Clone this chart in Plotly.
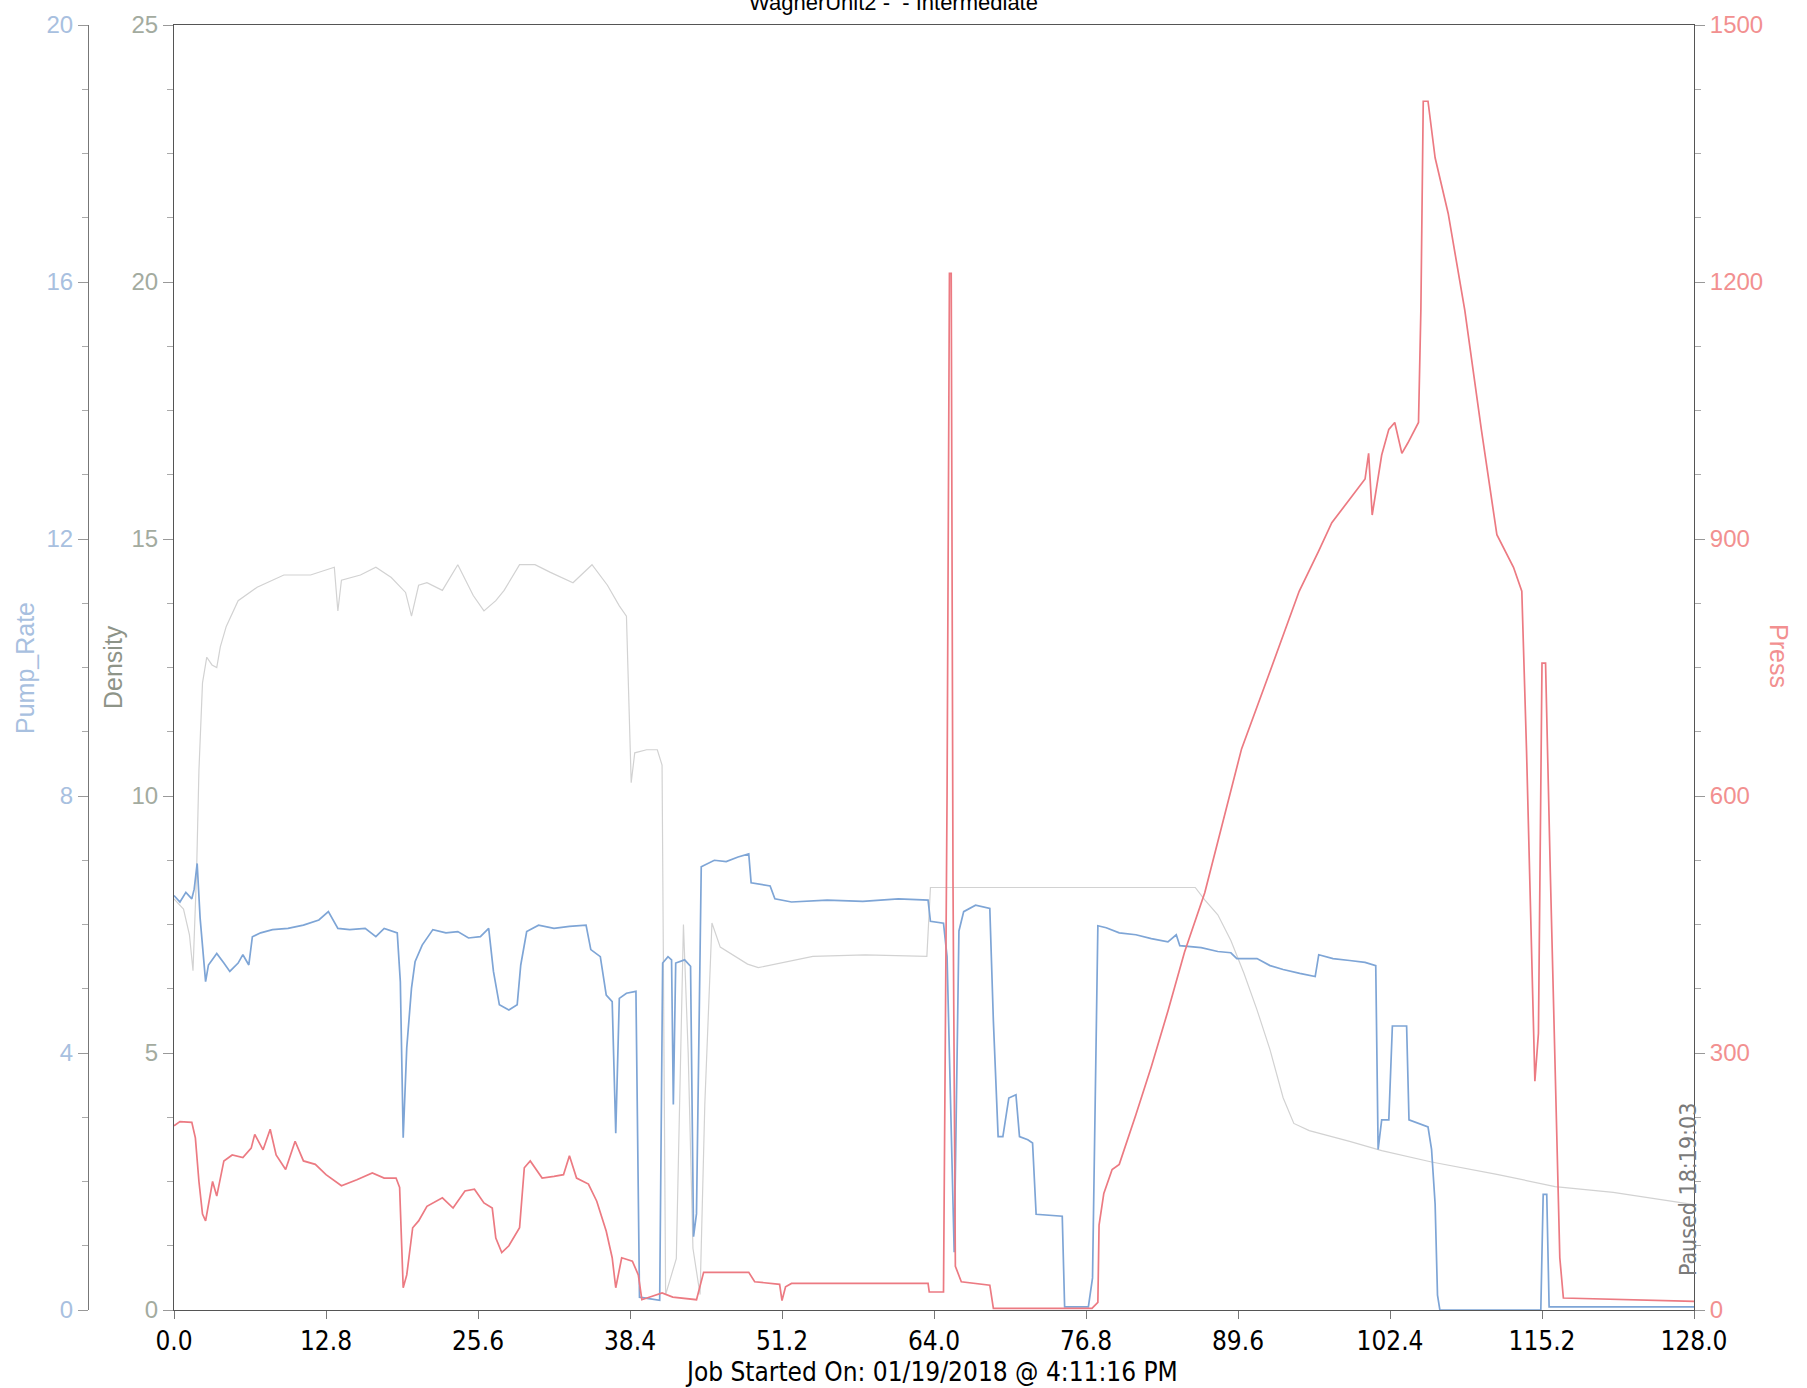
import plotly.graph_objects as go

W, H = 1807, 1388

# ---------------- data ----------------
pump_t = [0.0, 0.5, 1.0, 1.5, 1.7, 1.95, 2.2, 2.4, 2.66, 2.9, 3.6, 4.2, 4.7, 5.4, 5.8, 6.3, 6.6, 7.3, 8.3, 9.6,
          10.9, 12.2, 13.0, 13.8, 14.8, 16.1, 17.0, 17.7, 18.8, 19.06, 19.3, 19.6, 20.0, 20.3, 20.9, 21.8, 22.9,
          23.9, 24.8, 25.8, 26.5, 26.9, 27.4, 28.2, 28.9, 29.2, 29.7, 30.7, 32.0, 33.3, 34.7, 35.1, 35.9, 36.4,
          36.9, 37.2, 37.5, 38.1, 38.9, 39.2, 40.9, 41.15, 41.6, 41.9, 42.05, 42.25, 43.0, 43.5, 43.75, 44.0,
          44.4, 45.5, 46.5, 47.5, 48.4, 48.6, 50.2, 50.6, 52.0, 55.0, 58.0, 61.0, 63.5, 63.7, 64.8, 65.1, 65.7,
          66.1, 66.5, 67.5, 68.7, 69.0, 69.4, 69.8, 70.3, 70.9, 71.2, 71.9, 72.3, 72.6, 74.8, 75.0, 77.0, 77.35,
          77.8, 78.5, 79.6, 81.0, 82.3, 83.7, 84.4, 84.7, 86.5, 87.9, 89.0, 89.5, 91.2, 92.3, 93.4, 94.8, 96.1,
          96.4, 97.6, 99.0, 100.3, 101.2, 101.4, 101.7, 102.3, 102.6, 103.8, 104.0, 105.6, 105.9, 106.2, 106.4,
          106.6, 115.1, 115.3, 115.6, 115.8, 128.0]
pump_v = [6.45, 6.35, 6.5, 6.4, 6.55, 6.95, 6.1, 5.68, 5.11, 5.37, 5.55, 5.4, 5.27, 5.4, 5.53, 5.37, 5.81, 5.87,
          5.92, 5.94, 5.99, 6.07, 6.2, 5.94, 5.92, 5.94, 5.81, 5.94, 5.87, 5.11, 2.68, 4.08, 5.01, 5.42, 5.68,
          5.92, 5.87, 5.89, 5.79, 5.81, 5.94, 5.27, 4.75, 4.67, 4.75, 5.37, 5.89, 5.99, 5.94, 5.97, 5.99, 5.61,
          5.5, 4.9, 4.8, 2.75, 4.85, 4.93, 4.96, 0.2, 0.15, 5.4, 5.5, 5.45, 3.2, 5.4, 5.45, 5.35, 1.14, 1.5,
          6.9, 7.0, 6.98, 7.05, 7.1, 6.65, 6.6, 6.4, 6.35, 6.38, 6.36, 6.4, 6.38, 6.05, 6.02, 5.5, 0.9,
          5.9, 6.2, 6.3, 6.25, 4.5, 2.7, 2.7, 3.3, 3.35, 2.7, 2.65, 2.6, 1.49, 1.46, 0.05, 0.05, 0.5,
          5.98, 5.95, 5.87, 5.84, 5.78, 5.73, 5.84, 5.67, 5.64, 5.58, 5.56, 5.47, 5.47, 5.36, 5.3, 5.24, 5.19,
          5.53, 5.47, 5.44, 5.41, 5.36, 2.5, 2.96, 2.96, 4.42, 4.42, 2.96, 2.85, 2.5, 1.65, 0.23,
          0.0, 0.0, 1.8, 1.8, 0.05, 0.05]

press_t = [0.0, 0.5, 1.5, 1.8, 2.1, 2.4, 2.66, 3.25, 3.6, 4.2, 4.9, 5.8, 6.5, 6.8, 7.5, 8.1, 8.6, 9.4, 10.2,
           10.9, 11.9, 12.8, 14.1, 15.4, 16.7, 17.7, 18.7, 19.0, 19.3, 19.6, 20.1, 20.6, 21.3, 22.6, 23.5, 24.5,
           25.3, 26.1, 26.8, 27.1, 27.6, 28.2, 29.1, 29.5, 30.0, 31.0, 32.0, 32.8, 33.3, 33.9, 34.9, 35.6, 36.4,
           36.9, 37.2, 37.7, 38.6, 39.1, 39.4, 41.1, 42.0, 44.0, 44.6, 48.4, 48.9, 51.0, 51.2, 51.5, 52.0, 63.5,
           63.6, 64.8, 65.1, 65.3, 65.45, 65.6, 65.8, 66.3, 68.7, 69.0, 77.3, 77.8, 77.9, 78.3, 79.0, 79.6, 81.0,
           82.3, 83.7, 85.1, 86.8, 88.4, 89.9, 92.1, 94.75, 96.4, 97.5, 100.3, 100.6, 100.9, 101.7, 102.3, 102.8,
           103.4, 103.9, 104.8, 105.0, 105.2, 105.6, 106.2, 107.3, 108.7, 110.1, 111.4, 112.8, 113.5, 113.9,
           114.6, 114.9, 115.2, 115.5, 115.9, 116.7, 117.0, 128.0]
press_v = [215, 220, 219, 201, 150, 112, 104, 150, 133, 174, 181, 178, 189, 205, 187, 211, 181, 164, 197,
           174, 170, 158, 145, 152, 160, 154, 154, 143, 26, 41, 96, 104, 121, 131, 119, 139,
           141, 125, 119, 84, 67, 75, 96, 166, 174, 154, 156, 158, 180, 154, 147, 127, 92,
           61, 26, 61, 57, 41, 12, 20, 15, 12, 44, 44, 33, 30, 11, 27, 31, 31,
           21, 21, 600, 1210, 1210, 500, 51, 33, 29, 2, 2, 9, 99, 136, 164, 170, 228,
           284, 349, 418, 487, 573, 655, 738, 839, 886, 919, 970, 1000, 928, 998, 1028, 1036,
           1000, 1012, 1036, 1167, 1411, 1411, 1345, 1280, 1167, 1027, 905, 867, 839, 652,
           267, 323, 755, 755, 511, 61, 14, 10]

dens_t = [0.0, 0.8, 1.3, 1.6, 1.9, 2.1, 2.4, 2.76, 3.2, 3.6, 3.9, 4.4, 5.4, 7.0, 9.25, 11.5, 13.5, 13.8, 14.1,
          15.7, 17.0, 18.3, 19.5, 20.0, 20.6, 21.3, 22.6, 23.9, 25.2, 26.1, 27.1, 27.8, 29.1, 30.4, 31.7, 33.6,
          35.2, 36.5, 37.5, 38.1, 38.5, 38.8, 39.8, 40.7, 41.1, 41.4, 42.3, 42.9, 43.3, 43.7, 44.3, 44.7, 45.3,
          46.0, 48.3, 49.2, 53.8, 58.2, 63.4, 63.7, 86.0, 86.8, 87.9, 89.0, 90.1, 91.2, 92.3, 93.4, 94.3, 95.6,
          99.0, 101.7, 105.9, 111.4, 116.3, 121.2, 128.0]
dens_v = [8.0, 7.8, 7.3, 6.6, 8.5, 10.5, 12.2, 12.7, 12.55, 12.5, 12.9, 13.3, 13.8, 14.06, 14.3, 14.3, 14.45,
          13.6, 14.2, 14.3, 14.45, 14.25, 13.96, 13.5, 14.1, 14.15, 14.0, 14.5, 13.9, 13.6, 13.8, 14.0, 14.5,
          14.5, 14.35, 14.15, 14.5, 14.1, 13.7, 13.5, 10.26, 10.84, 10.9, 10.9, 10.6, 0.3, 1.0, 7.5, 5.0, 1.2,
          0.3, 4.0, 7.53, 7.06, 6.73, 6.66, 6.88, 6.91, 6.88, 8.22, 8.22, 7.98, 7.69, 7.19, 6.55, 5.84, 5.06,
          4.13, 3.63, 3.49, 3.28, 3.1, 2.88, 2.64, 2.4, 2.29, 2.05]

x_ticks = [0.0, 12.8, 25.6, 38.4, 51.2, 64.0, 76.8, 89.6, 102.4, 115.2, 128.0]
title_text = "WagnerUnit2 -  - Intermediate"
x_title = "Job Started On: 01/19/2018 @ 4:11:16 PM"
paused_text = "Paused 18:19:03"

# ---------------- styling ----------------
PLOT_L, PLOT_R, PLOT_T, PLOT_B = 174, 1694, 25, 1310
PUMP_AX_X = 88
C_PUMP = "#7ea5d6"
C_PUMP_TXT = "#a8c0df"
C_DENS = "#d2d2d2"
C_DENS_TXT = "#a3ab9f"
C_DENS_TITLE = "#8e9488"
C_PRESS = "#ec7a82"
C_PRESS_TXT = "#f29090"
AX = "#555555"
NARROW = "DejaVu Sans Condensed, Liberation Sans Narrow, Liberation Sans, sans-serif"
REG = "Liberation Sans, Arial, sans-serif"

def px_x(x):
    return x / W

def px_y(y):
    return (PLOT_B - y) / (PLOT_B - PLOT_T)

fig = go.Figure()
fig.add_trace(go.Scatter(x=dens_t, y=dens_v, yaxis="y", mode="lines", name="Density",
                         line=dict(color=C_DENS, width=1.2)))
fig.add_trace(go.Scatter(x=pump_t, y=pump_v, yaxis="y2", mode="lines", name="Pump_Rate",
                         line=dict(color=C_PUMP, width=1.7)))
fig.add_trace(go.Scatter(x=press_t, y=press_v, yaxis="y3", mode="lines", name="Press",
                         line=dict(color=C_PRESS, width=1.7)))

fig.update_layout(
    width=W, height=H,
    margin=dict(l=0, r=0, t=PLOT_T, b=H - PLOT_B, autoexpand=False),
    paper_bgcolor="white", plot_bgcolor="white",
    showlegend=False,
    xaxis=dict(domain=[px_x(PLOT_L), px_x(PLOT_R)], range=[0, 128], tickvals=x_ticks, automargin=False,
               ticktext=[f"{v:.1f}" for v in x_ticks], ticks="outside", ticklen=8, tickcolor="#777",
               showline=True, linecolor=AX, linewidth=1, mirror=True, showgrid=False, zeroline=False,
               tickfont=dict(family=NARROW, size=26, color="black")),
    yaxis=dict(range=[0, 25], tickvals=[0, 5, 10, 15, 20, 25], ticks="outside", ticklen=10, automargin=False,
               tickcolor="#999", showline=True, linecolor=AX, linewidth=1, showgrid=False,
               zeroline=False, tickfont=dict(family=REG, size=24, color=C_DENS_TXT),
               minor=dict(dtick=1.25, ticks="outside", ticklen=6, tickcolor="#aaa")),
    yaxis2=dict(range=[0, 20], tickvals=[0, 4, 8, 12, 16, 20], overlaying="y", anchor="free", automargin=False,
                position=px_x(PUMP_AX_X), side="left", ticks="outside", ticklen=10, tickcolor="#999",
                showline=True, linecolor="#777", linewidth=1, showgrid=False, zeroline=False,
                tickfont=dict(family=REG, size=24, color=C_PUMP_TXT),
                minor=dict(dtick=1, ticks="outside", ticklen=6, tickcolor="#aaa")),
    yaxis3=dict(range=[0, 1500], tickvals=[0, 300, 600, 900, 1200, 1500], overlaying="y", anchor="x",
                side="right", ticks="outside", ticklen=10, tickcolor="#999", showline=True, automargin=False,
                linecolor=AX, linewidth=1, showgrid=False, zeroline=False,
                tickfont=dict(family=REG, size=24, color=C_PRESS_TXT),
                minor=dict(dtick=75, ticks="outside", ticklen=6, tickcolor="#aaa")),
)

ann = [
    dict(text=title_text, x=px_x(893), y=px_y(2), xref="paper", yref="paper", showarrow=False,
         font=dict(family=REG, size=22, color="black"), xanchor="center", yanchor="middle"),
    dict(text=x_title, x=px_x(931), y=px_y(1372), xref="paper", yref="paper", showarrow=False,
         font=dict(family=NARROW, size=26, color="black"), xanchor="center", yanchor="middle"),
    dict(text="Pump_Rate", x=px_x(25), y=px_y(668), xref="paper", yref="paper", showarrow=False,
         textangle=-90, font=dict(family=REG, size=25, color=C_PUMP_TXT), xanchor="center", yanchor="middle"),
    dict(text="Density", x=px_x(113), y=px_y(667), xref="paper", yref="paper", showarrow=False,
         textangle=-90, font=dict(family=REG, size=25, color=C_DENS_TITLE), xanchor="center", yanchor="middle"),
    dict(text="Press", x=px_x(1779), y=px_y(656), xref="paper", yref="paper", showarrow=False,
         textangle=90, font=dict(family=REG, size=25, color=C_PRESS_TXT), xanchor="center", yanchor="middle"),
    dict(text=paused_text, x=px_x(1688), y=px_y(1190), xref="paper", yref="paper", showarrow=False,
         textangle=-90, font=dict(family=NARROW, size=23, color="#7a7a7a"), xanchor="center", yanchor="middle"),
]
fig.update_layout(annotations=ann)

fig.write_html("out.html")
